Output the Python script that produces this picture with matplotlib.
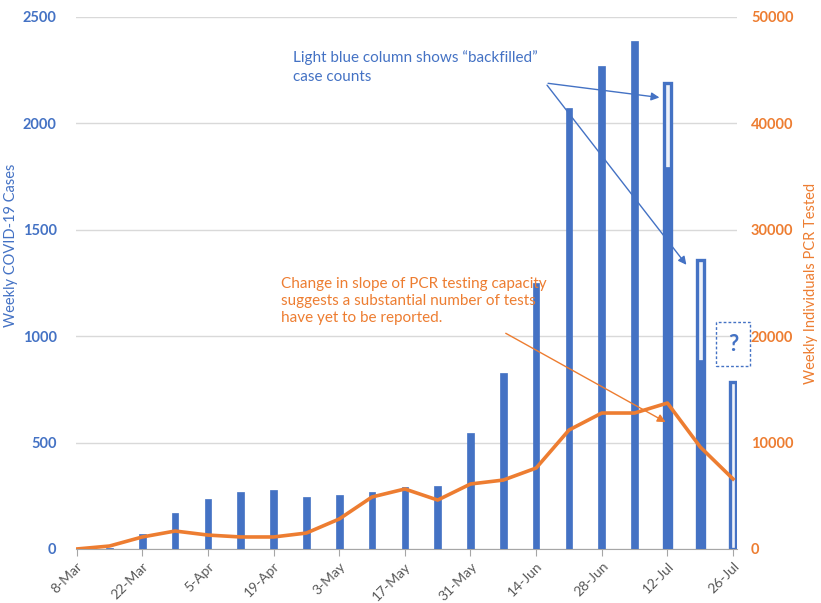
import numpy as np
import matplotlib.pyplot as plt

plt.rcParams['font.family'] = ['Lato', 'DejaVu Sans']

# weekly data, week starting dates
weeks = ['8-Mar', '15-Mar', '22-Mar', '29-Mar', '5-Apr', '12-Apr', '19-Apr', '26-Apr',
         '3-May', '10-May', '17-May', '24-May', '31-May', '7-Jun', '14-Jun', '21-Jun',
         '28-Jun', '5-Jul', '12-Jul', '19-Jul', '26-Jul']
# cases reported at time of first count
cases_reported = [3, 4, 70, 170, 233, 268, 277, 244, 254, 268, 291, 298, 545, 827,
                  1250, 2072, 2270, 2387, 1795, 888, 0]
# cases including backfilled reports
cases_total = [3, 4, 70, 170, 233, 268, 277, 244, 254, 268, 291, 298, 545, 827,
               1250, 2072, 2270, 2387, 2190, 1358, 785]
# individuals tested by PCR
pcr_tested = [0, 280, 1130, 1690, 1310, 1130, 1130, 1500, 2820, 4890, 5640, 4600,
              6110, 6480, 7610, 11180, 12780, 12780, 13720, 9590, 6580]

blue = '#4472C4'
light_blue = '#EEF2FA'
orange = '#ED7D31'
grey = '#595959'

x = np.arange(len(weeks))

fig = plt.figure(figsize=(8.21, 6.03), dpi=100)
ax = fig.add_axes([76 / 821, 1 - 549 / 603, (737 - 76) / 821, (549 - 17) / 603])
ax2 = ax.twinx()

# backfilled columns (outline) then the originally reported part on top
bw = 0.2
total = np.array(cases_total)
reported = np.array(cases_reported)
backfilled = total > reported
ax.bar(x[backfilled], total[backfilled], width=bw, color=light_blue,
       edgecolor=blue, linewidth=2.4, zorder=2)
ax.bar(x, reported, width=bw, color=blue, edgecolor=blue, linewidth=0.5, zorder=3)

ax.set_ylim(0, 2500)
ax.set_yticks(np.arange(0, 2501, 500))
ax.set_xlim(-0.02, 20.12)
ax.grid(axis='y', color='#D9D9D9', linewidth=1)
ax.set_axisbelow(True)

ax.set_xticks(x[::2])
ax.set_xticklabels(weeks[::2], rotation=45, ha='right', rotation_mode='anchor',
                   color=grey, fontsize=10)
ax.tick_params(axis='x', length=5, color='#A6A6A6', pad=3)
ax.tick_params(axis='y', length=0, colors=blue, labelsize=10.5, pad=14)
for lbl in ax.get_yticklabels():
    lbl.set_fontweight('bold')

for s in ['top', 'left', 'right']:
    ax.spines[s].set_visible(False)
    ax2.spines[s].set_visible(False)
ax.spines['bottom'].set_color('#A6A6A6')
ax2.spines['bottom'].set_visible(False)

ax.set_ylabel('Weekly COVID-19 Cases', color=blue, fontsize=10.5, labelpad=14)
ax.yaxis.set_label_coords(-0.088, 0.57)

# PCR testing line
ax2.plot(x, pcr_tested, color=orange, linewidth=2.6, solid_joinstyle='round', zorder=4)
ax2.set_ylim(0, 50000)
ax2.set_yticks(np.arange(0, 50001, 10000))
ax2.tick_params(axis='y', length=0, colors=orange, labelsize=10.5, pad=10)
for lbl in ax2.get_yticklabels():
    lbl.set_fontweight('bold')
ax2.set_ylabel('Weekly Individuals PCR Tested', color=orange, fontsize=10.5,
               labelpad=10)
ax2.yaxis.set_label_coords(1.102, 0.5)

# annotations
ax2.text(6.6, 46900, 'Light blue column shows \u201cbackfilled\u201d\ncase counts',
         color=blue, fontsize=11, va='top', ha='left', linespacing=1.45)
ax2.annotate('', xy=(17.84, 42400), xytext=(14.28, 43800),
             arrowprops=dict(arrowstyle='-|>', color=blue, lw=1, mutation_scale=12))
ax2.annotate('', xy=(18.63, 26500), xytext=(14.28, 43800),
             arrowprops=dict(arrowstyle='-|>', color=blue, lw=1, mutation_scale=12))

ax2.text(6.24, 25600, 'Change in slope of PCR testing capacity\n'
         'suggests a substantial number of tests\nhave yet to be reported.',
         color=orange, fontsize=11, va='top', ha='left', linespacing=1.3)
ax2.annotate('', xy=(18.02, 11800), xytext=(13.0, 20400),
             arrowprops=dict(arrowstyle='-|>', color=orange, lw=1, mutation_scale=12))

# dashed box marking the uncertain final week
box = plt.Rectangle((19.48, 17200), 1.04, 4150, fill=False, edgecolor=blue,
                    linestyle=(0, (2, 1.5)), linewidth=1, clip_on=False, zorder=5)
ax2.add_patch(box)
ax2.text(20.0, 19250, '?', color=blue, fontsize=16, fontweight='bold',
         ha='center', va='center', clip_on=False, zorder=5)

fig.savefig('out.png', dpi=100)
